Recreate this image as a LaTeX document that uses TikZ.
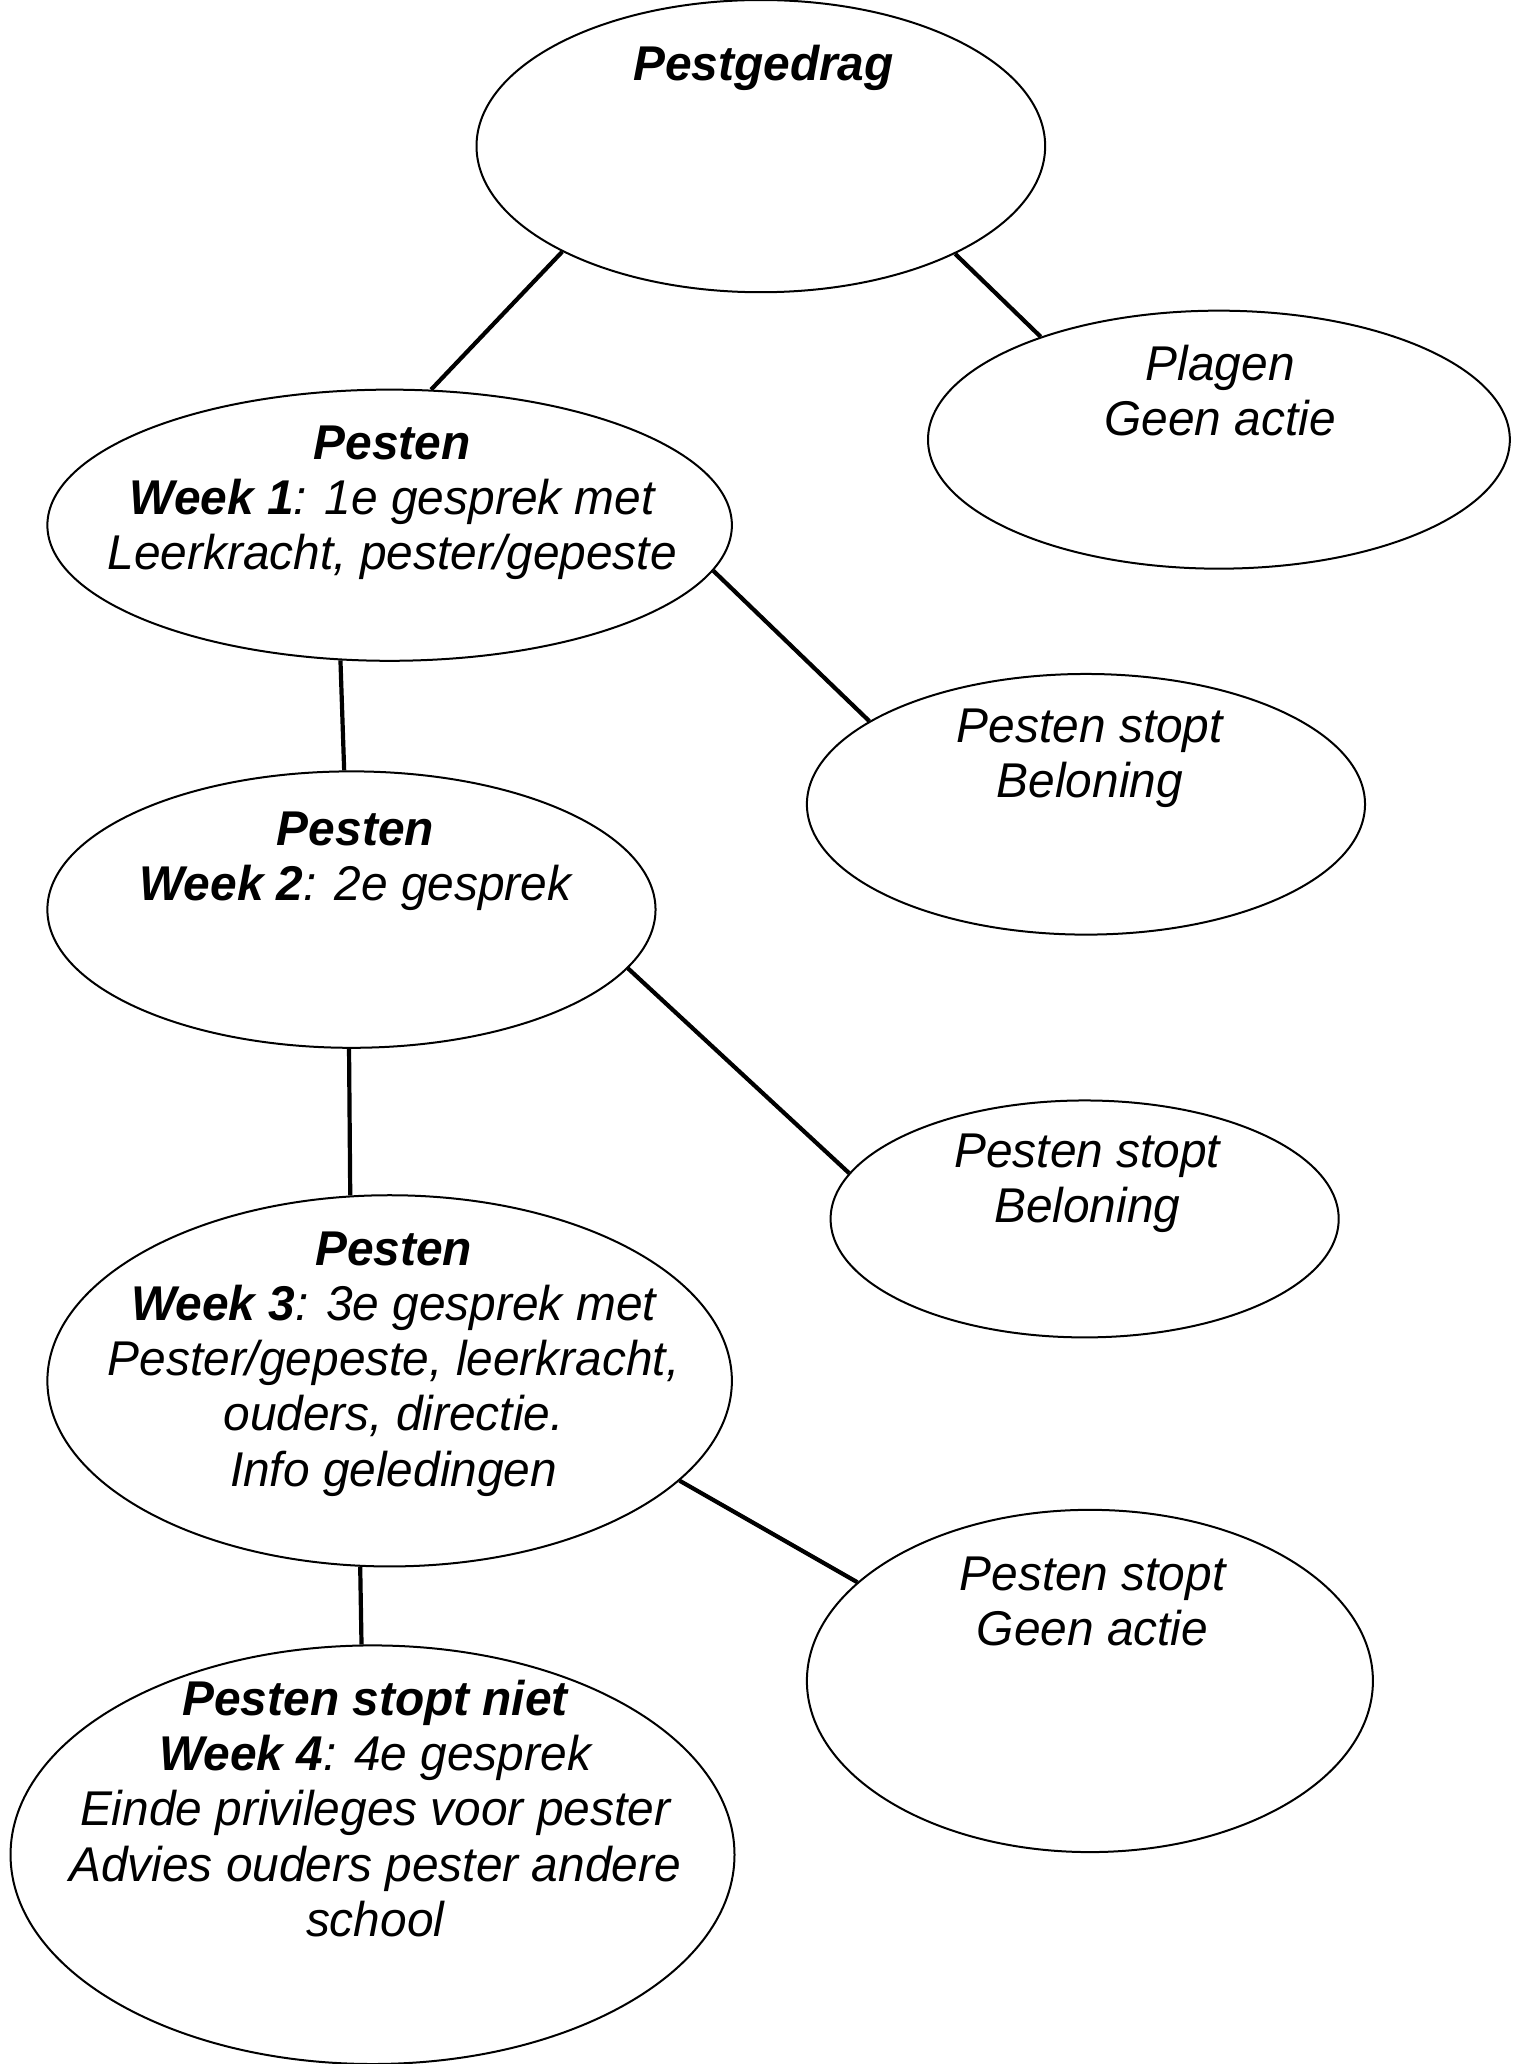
\documentclass[tikz,border=0pt]{standalone}
\usepackage{fontspec}
\setmainfont{Liberation Sans}[FakeStretch=0.98]
\usetikzlibrary{shapes.geometric}
\begin{document}
\begin{tikzpicture}[x=0.658pt,y=-0.658pt,
  ell/.style 2 args={ellipse,draw,line width=1pt,inner sep=0pt,minimum width=#1*0.658pt,minimum height=#2*0.658pt},
  conn/.style={line width=2.1pt},
  txt/.style={anchor=base,inner sep=0pt,align=center,font=\fontsize{24.4pt}{27.6pt}\selectfont\itshape}]
\useasboundingbox[fill=white] (0,0) rectangle (1159,1568);
% ellipses
\node[ell={432}{222}] (e1) at (578,111) {};
\node[ell={442}{196}] (e2) at (926,334) {};
\node[ell={520}{206}] (e3) at (296,399) {};
\node[ell={424}{198}] (e4) at (825,611) {};
\node[ell={462}{210}] (e5) at (267,691) {};
\node[ell={386}{180}] (e6) at (824,926) {};
\node[ell={520}{282}] (e7) at (296,1049) {};
\node[ell={430}{260}] (e8) at (828,1277) {};
\node[ell={550}{318}] (e9) at (283,1409) {};
% texts (anchor base = baseline of the last line)
\node[txt] (t1) at (580,61) {\textbf{Pestgedrag}};
\node[txt] (t2) at (927,331) {Plagen\\Geen actie};
\node[txt] (t3) at (298,433) {\textbf{Pesten}\\\textbf{Week 1}: 1e gesprek met\\Leerkracht, pester/gepeste};
\node[txt] (t4) at (828,606) {Pesten stopt\\Beloning};
\node[txt] (t5) at (270,684) {\textbf{Pesten}\\\textbf{Week 2}: 2e gesprek};
\node[txt] (t6) at (826,929) {Pesten stopt\\Beloning};
\node[txt] (t7) at (299,1129) {\textbf{Pesten}\\\textbf{Week 3}: 3e gesprek met\\Pester/gepeste, leerkracht,\\ouders, directie.\\Info geledingen};
\node[txt] (t8) at (830,1250) {Pesten stopt\\Geen actie};
\node[txt] (t9) at (285,1471) {\textbf{Pesten stopt niet}\\\textbf{Week 4}: 4e gesprek\\Einde privileges voor pester\\Advies ouders pester andere\\school};
% connectors
\draw[conn] (e1.208.6) -- (e3.73.1);
\draw[conn] (e1.331.7) -- (e2.150.4);
\draw[conn] (e3.352.2) -- (e4.159.8);
\draw[conn] (e3.250.6) -- (e5.93.8);
\draw[conn] (e5.348.6) -- (e6.169.5);
\draw[conn] (e5.269) -- (e7.102.5);
\draw[conn] (e7.341.6) -- (e8.157.5);
\draw[conn] (e7.261) -- (e9.93.6);
\end{tikzpicture}
\end{document}
